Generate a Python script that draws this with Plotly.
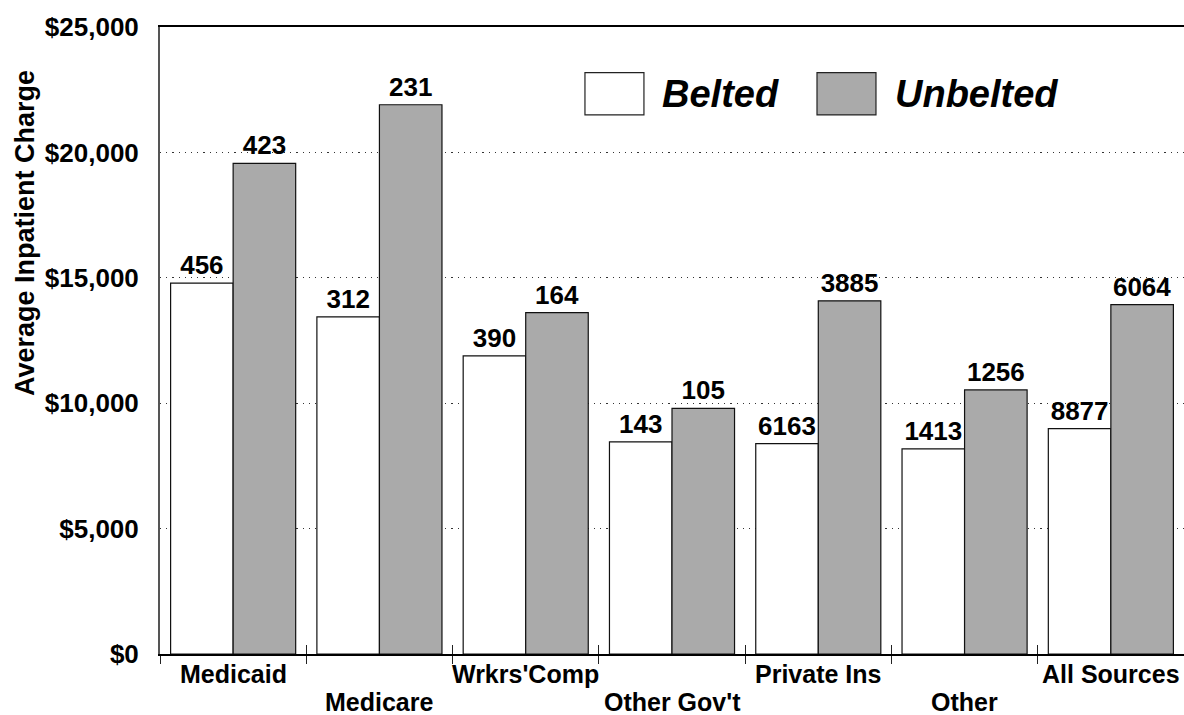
import plotly.graph_objects as go

categories = ["Medicaid", "Medicare", "Wrkrs'Comp", "Other Gov't", "Private Ins", "Other", "All Sources"]
belted_charge = [14790, 13440, 11890, 8460, 8390, 8180, 8990]
unbelted_charge = [19560, 21900, 13610, 9790, 14080, 10530, 13930]
belted_count = [456, 312, 390, 143, 6163, 1413, 8877]
unbelted_count = [423, 231, 164, 105, 3885, 1256, 6064]
series_names = ["Belted", "Unbelted"]
y_ticks = [0, 5000, 10000, 15000, 20000, 25000]
y_tick_labels = ["$0", "$5,000", "$10,000", "$15,000", "$20,000", "$25,000"]
y_title = "Average Inpatient Charge"

FONT = "Liberation Sans, Arial, sans-serif"
fills = ["#ffffff", "#aaaaaa"]

fig = go.Figure()
for name, vals, counts, fill in [
    (series_names[0], belted_charge, belted_count, fills[0]),
    (series_names[1], unbelted_charge, unbelted_count, fills[1]),
]:
    fig.add_trace(go.Bar(
        x=categories, y=vals, name=name, text=[str(c) for c in counts],
        textposition="outside", cliponaxis=False,
        textfont=dict(family=FONT, size=26, color="black", weight="bold"),
        marker=dict(color=fill, line=dict(color="#111111", width=1.2)),
        showlegend=False,
    ))

n = len(categories)
# invisible trace to keep the overlay axis alive
fig.add_trace(go.Scatter(x=[-0.5, n - 0.5], y=[0, 0], xaxis="x2", mode="lines",
                         line=dict(width=0), hoverinfo="skip", showlegend=False))

fig.update_layout(
    width=1184, height=715,
    margin=dict(l=160, r=0, t=27, b=61),
    paper_bgcolor="white", plot_bgcolor="white",
    barmode="group", bargap=0.145, bargroupgap=0,
    font=dict(family=FONT, color="black"),
    xaxis=dict(type="category", categoryorder="array", categoryarray=categories,
               showticklabels=False, ticks="outside", tickson="boundaries",
               ticklen=8, tickcolor="#222222", tickwidth=1.2,
               showline=True, linecolor="black", linewidth=1.5, mirror=True,
               showgrid=False, zeroline=False),
    xaxis2=dict(overlaying="x", anchor="y", range=[-0.5, n - 0.5],
                tickvals=[i - 0.5 for i in range(n + 1)], ticks="inside",
                ticklen=9, tickcolor="#222222", tickwidth=1.2,
                showticklabels=False, showline=False, showgrid=False, zeroline=False),
    yaxis=dict(range=[0, 25000], tickvals=y_ticks, ticktext=y_tick_labels,
               tickfont=dict(family=FONT, size=26, color="black", weight="bold"),
               ticklabelstandoff=14,
               showgrid=True, gridcolor="#333333", griddash="1.2px,5px", gridwidth=1.2,
               showline=True, linecolor="#555555", linewidth=2, zeroline=False),
)

# staggered category labels
for i, cat in enumerate(categories):
    fig.add_annotation(x=cat, xref="x", y=0, yref="paper", yanchor="middle",
                       yshift=-20 if i % 2 == 0 else -48, showarrow=False,
                       text=f"<b>{cat}</b>",
                       font=dict(family=FONT, size=25, color="black"))

# y axis title
fig.add_annotation(x=-0.132, y=0.671, xref="paper", yref="paper", textangle=-90,
                   xanchor="center", yanchor="middle",
                   showarrow=False, text=f"<b>{y_title}</b>",
                   font=dict(family=FONT, size=27, color="black"))

# legend drawn inside the plot
legend_pos = [(0.415, 0.4883), (0.6416, 0.7158)]
for (bx, tx), name, fill in zip(legend_pos, series_names, fills):
    fig.add_shape(type="rect", xref="paper", yref="paper",
                  x0=bx, x1=bx + 0.0576, y0=0.8597, y1=0.9271,
                  fillcolor=fill, line=dict(color="#222222", width=1.2))
    fig.add_annotation(x=tx, y=0.8934, xref="paper", yref="paper",
                       xanchor="left", yanchor="middle", showarrow=False,
                       text=f"<b><i>{name}</i></b>",
                       font=dict(family=FONT, size=38, color="black"))

fig.write_html("out.html")
